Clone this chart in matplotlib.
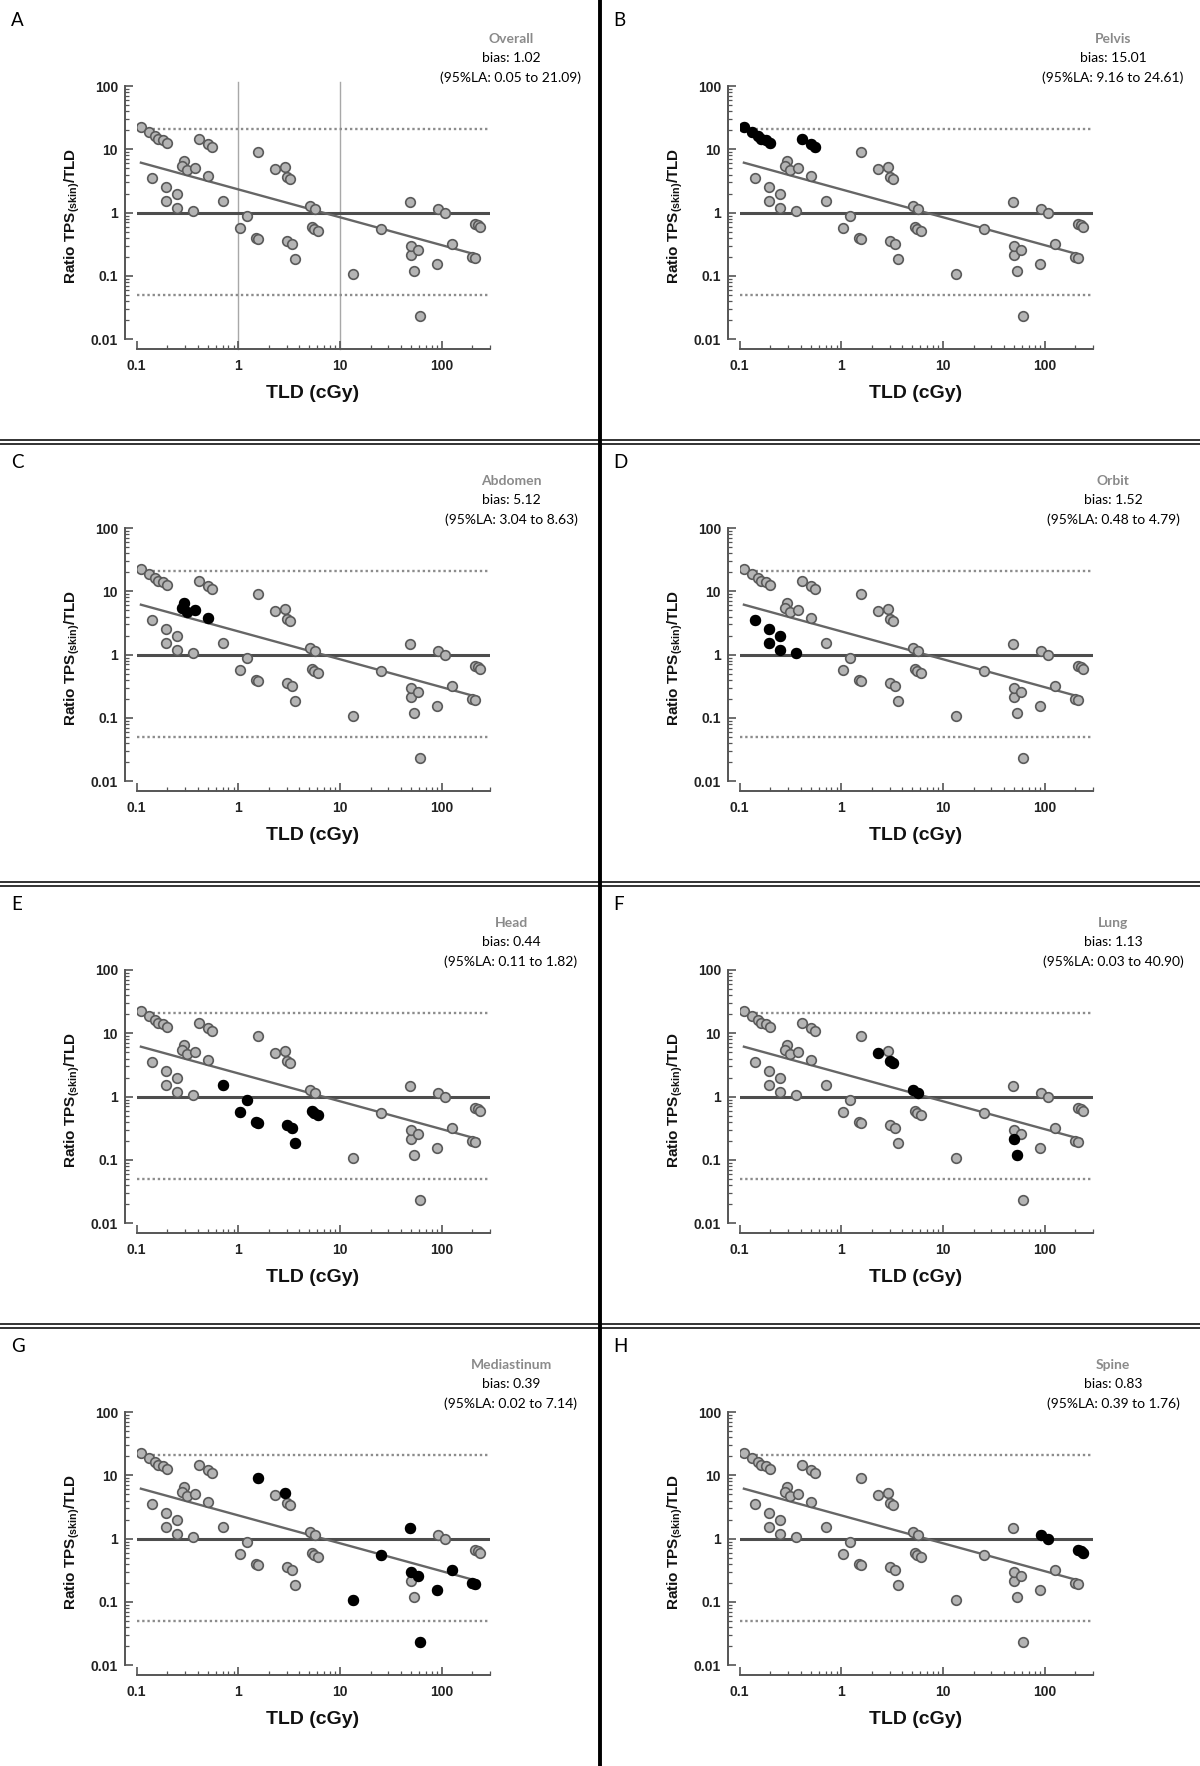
import matplotlib
matplotlib.use("Agg")
import matplotlib.pyplot as plt
from matplotlib.ticker import FixedLocator, FixedFormatter, LogLocator, NullFormatter
import matplotlib.transforms as mtransforms

plt.rcParams['mathtext.fontset'] = 'custom'
plt.rcParams['mathtext.rm'] = 'Liberation Sans'
plt.rcParams['mathtext.bf'] = 'Liberation Sans:bold'
plt.rcParams['mathtext.it'] = 'Liberation Sans:italic'

# ---------------- data ----------------
pelvis_tld = [0.109, 0.132, 0.151, 0.163, 0.180, 0.197, 0.410, 0.499, 0.547]
pelvis_ratio = [22.5, 18.8, 16.2, 14.6, 13.8, 12.7, 14.7, 12.1, 11.0]
abdomen_tld = [0.290, 0.281, 0.313, 0.372, 0.499]
abdomen_ratio = [6.5, 5.4, 4.7, 5.0, 3.75]
orbit_tld = [0.141, 0.193, 0.249, 0.193, 0.249, 0.361]
orbit_ratio = [3.5, 2.51, 1.95, 1.51, 1.17, 1.08]
head_tld = [0.707, 1.04, 1.22, 1.50, 1.56, 2.99, 3.35, 3.64, 5.26, 5.60, 6.03]
head_ratio = [1.53, 0.566, 0.885, 0.40, 0.39, 0.357, 0.32, 0.188, 0.59, 0.55, 0.51]
lung_tld = [2.29, 3.03, 3.25, 5.11, 5.68, 49.9, 54.2]
lung_ratio = [4.83, 3.6, 3.36, 1.27, 1.14, 0.215, 0.119]
mediastinum_tld = [1.55, 2.88, 13.6, 25.3, 48.8, 49.9, 58.9, 62.1, 89.3, 127, 200, 212]
mediastinum_ratio = [8.97, 5.26, 0.106, 0.55, 1.49, 0.30, 0.254, 0.0233, 0.157, 0.32, 0.20, 0.195]
spine_tld = [91.4, 107, 213, 226, 240]
spine_ratio = [1.14, 0.99, 0.66, 0.64, 0.60]

site_names = ["Pelvis", "Abdomen", "Orbit", "Head", "Lung", "Mediastinum", "Spine"]
site_tld = [pelvis_tld, abdomen_tld, orbit_tld, head_tld, lung_tld, mediastinum_tld, spine_tld]
site_ratio = [pelvis_ratio, abdomen_ratio, orbit_ratio, head_ratio, lung_ratio,
              mediastinum_ratio, spine_ratio]

panel_letters = ["A", "B", "C", "D", "E", "F", "G", "H"]
panel_titles = ["Overall", "Pelvis", "Abdomen", "Orbit", "Head", "Lung", "Mediastinum", "Spine"]
panel_bias = ["1.02", "15.01", "5.12", "1.52", "0.44", "1.13", "0.39", "0.83"]
panel_la_low = ["0.05", "9.16", "3.04", "0.48", "0.11", "0.03", "0.02", "0.39"]
panel_la_high = ["21.09", "24.61", "8.63", "4.79", "1.82", "40.90", "7.14", "1.76"]

# overall Bland-Altman lines (panel A values)
overall_bias = 1.0
overall_la = [0.05, 21.09]
reg_x = [0.11, 230]
reg_y = [6.15, 0.213]
guide_x = [1, 10]

x_ticks = [0.1, 1, 10, 100]
x_ticklabels = ["0.1", "1", "10", "100"]
y_ticks = [0.01, 0.1, 1, 10, 100]
y_ticklabels = ["0.01", "0.1", "1", "10", "100"]

# ---------------- figure ----------------
W, H = 1200, 1766
fig = plt.figure(figsize=(W / 100, H / 100), dpi=100)

ROW = 442.0
COL_AX = 603.0
COL_TX = 602.0
AX_L, AX_R, AX_T, AX_B = 136.7, 490.0, 86.0, 339.3

all_tld = [v for lst in site_tld for v in lst]
all_ratio = [v for lst in site_ratio for v in lst]

gray_fill = "#b4b4b4"
gray_edge = "#5a5a5a"
line_gray = "#666666"

for i in range(8):
    r, c = divmod(i, 2)
    ox = c * COL_AX
    oy = r * ROW
    rect = [(AX_L + ox) / W, 1 - (AX_B + oy) / H, (AX_R - AX_L) / W, (AX_B - AX_T) / H]
    ax = fig.add_axes(rect)
    ax.set_xscale("log")
    ax.set_yscale("log")
    ax.set_xlim(0.1, 300)
    ax.set_ylim(0.01, 100)
    ax.patch.set_alpha(0)

    for s in ["top", "right"]:
        ax.spines[s].set_visible(False)
    ax.spines["left"].set_position(("outward", 8.5))
    ax.spines["bottom"].set_position(("outward", 7.0))
    for s in ["left", "bottom"]:
        ax.spines[s].set_color("#555555")
        ax.spines[s].set_linewidth(1.4)

    ax.xaxis.set_major_locator(FixedLocator(x_ticks))
    ax.xaxis.set_major_formatter(FixedFormatter(x_ticklabels))
    ax.yaxis.set_major_locator(FixedLocator(y_ticks))
    ax.yaxis.set_major_formatter(FixedFormatter(y_ticklabels))
    ax.xaxis.set_minor_locator(LogLocator(base=10, subs=range(2, 10), numticks=20))
    ax.yaxis.set_minor_locator(LogLocator(base=10, subs=range(2, 10), numticks=20))
    ax.xaxis.set_minor_formatter(NullFormatter())
    ax.yaxis.set_minor_formatter(NullFormatter())
    ax.tick_params(which="major", direction="in", length=5.5, width=1.2, color="#555555",
                   labelsize=10, pad=5)
    ax.tick_params(which="minor", direction="in", length=3, width=0.9, color="#555555")
    ax.tick_params(axis="x", which="major", pad=7)
    for lab in ax.get_xticklabels() + ax.get_yticklabels():
        lab.set_fontweight("bold")
        lab.set_family("Liberation Sans")
        lab.set_color("#222222")

    # guide lines (panel A only)
    if i == 0:
        trans = mtransforms.blended_transform_factory(ax.transData, ax.transAxes)
        for gx in guide_x:
            ax.plot([gx, gx], [-0.04, 1.014], transform=trans, color="#a8a8a8",
                    lw=1.0, clip_on=False, zorder=1)

    # limits of agreement and bias
    ax.axhline(overall_la[1], xmin=0, xmax=1, color="#8c8c8c", lw=1.7, ls=(0, (1, 1.2)), zorder=2)
    ax.axhline(overall_la[0], xmin=0, xmax=1, color="#8c8c8c", lw=1.7, ls=(0, (1, 1.2)), zorder=2)
    ax.axhline(overall_bias, color="#4d4d4d", lw=2.2, zorder=2)
    ax.plot(reg_x, reg_y, color=line_gray, lw=1.7, zorder=3)

    # all points grey
    ax.scatter(all_tld, all_ratio, s=48, facecolor=gray_fill, edgecolor=gray_edge,
               linewidth=1.2, zorder=4)
    # highlighted site
    if i > 0:
        k = i - 1
        ax.scatter(site_tld[k], site_ratio[k], s=48, facecolor="black", edgecolor="black",
                   linewidth=1.2, zorder=5)

    # axis labels
    fig.text((313 + ox) / W, 1 - (394 + oy) / H, "TLD (cGy)", ha="center", va="center",
             fontsize=14, fontweight="bold", family="Liberation Sans", color="#111111")
    fig.text((72.7 + ox) / W, 1 - (216 + oy) / H, r"Ratio TPS$_{\mathbf{(skin)}}$/TLD",
             ha="center", va="center", rotation=90, fontsize=11, fontweight="bold",
             family="Liberation Sans", color="#111111")

    # panel letter and annotation
    tx = c * COL_TX
    fig.text((11 + tx) / W, 1 - (20 + oy) / H, panel_letters[i], ha="left", va="center",
             fontsize=13.5, family="Lato")
    cx = 511 + tx
    fig.text(cx / W, 1 - (39.3 + oy) / H, panel_titles[i], ha="center", va="center",
             fontsize=10, fontweight="bold", color="#8a8a8a", family="Lato")
    fig.text(cx / W, 1 - (58.3 + oy) / H, "bias: " + panel_bias[i], ha="center", va="center",
             fontsize=10, color="black", family="Lato")
    fig.text(cx / W, 1 - (77.3 + oy) / H,
             "(95%LA: " + panel_la_low[i] + " to " + panel_la_high[i] + ")",
             ha="center", va="center", fontsize=10, color="black", family="Lato")

# separators
for r in range(1, 4):
    yy = r * ROW
    for d in (-2.0, 2.0):
        fig.add_artist(plt.Line2D([0, 1], [1 - (yy + d) / H] * 2, transform=fig.transFigure,
                                  color="#333333", lw=1.4))
fig.add_artist(plt.Line2D([600 / W, 600 / W], [0, 1], transform=fig.transFigure,
                          color="black", lw=2.8))

fig.savefig("out.png", dpi=100, facecolor="white")
